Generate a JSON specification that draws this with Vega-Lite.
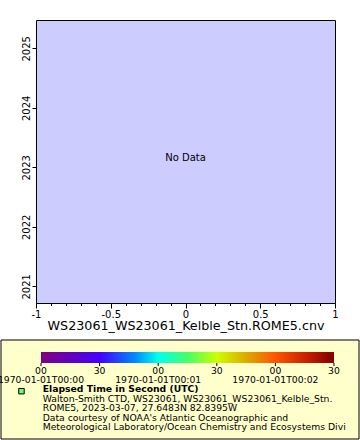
{
  "$schema": "https://vega.github.io/schema/vega-lite/v6.json",
  "padding": {"left": -3, "top": 19, "right": 0, "bottom": 0},
  "bounds": "flush",
  "spacing": 37,
  "config": {"view": {"stroke": null}, "font": "DejaVu Sans"},
  "vconcat": [
    {
      "width": 299,
      "height": 283,
      "view": {"fill": "#ccccff", "stroke": "black", "strokeWidth": 1},
      "data": {"values": [{"x": 0, "year": 2023.15, "label": "No Data"}]},
      "mark": {"type": "text", "fontSize": 10, "font": "DejaVu Sans", "color": "black", "baseline": "middle", "align": "center"},
      "encoding": {
        "x": {
          "field": "x", "type": "quantitative",
          "scale": {"domain": [-1, 1], "nice": false, "zero": false},
          "axis": {
            "title": "WS23061_WS23061_Kelble_Stn.ROME5.cnv",
            "values": [-1, -0.9, -0.8, -0.7, -0.6, -0.5, -0.4, -0.3, -0.2, -0.1, 0, 0.1, 0.2, 0.3, 0.4, 0.5, 0.6, 0.7, 0.8, 0.9, 1],
            "labelExpr": "abs(datum.value*2 - round(datum.value*2)) < 0.001 ? (datum.value < 0 ? '-' : '') + format(abs(datum.value), '') : ''",
            "tickSize": {"condition": {"test": "abs(datum.value*2 - round(datum.value*2)) < 0.001", "value": 5}, "value": 2.5},
            "domain": false, "grid": false,
            "tickColor": "black", "labelColor": "black", "titleColor": "black",
            "labelFont": "DejaVu Sans", "labelFontSize": 10, "labelPadding": 1,
            "labelFlush": false, "labelOverlap": false,
            "titleFont": "DejaVu Sans", "titleFontSize": 12.7, "titleFontWeight": "normal",
            "titleBaseline": "alphabetic", "titleY": 26
          }
        },
        "y": {
          "field": "year", "type": "quantitative",
          "scale": {"domain": [2020.719, 2025.476], "nice": false, "zero": false},
          "axis": {
            "title": null,
            "values": [2021, 2022, 2023, 2024, 2025],
            "format": "d",
            "labelAngle": -90, "labelAlign": "center", "labelBaseline": "alphabetic",
            "labelPadding": 3, "tickSize": 4,
            "domain": false, "grid": false,
            "tickColor": "black", "labelColor": "black",
            "labelFont": "DejaVu Sans", "labelFontSize": 10,
            "labelFlush": false, "labelOverlap": false
          }
        },
        "text": {"field": "label"}
      }
    },
    {
      "width": 299,
      "height": 99,
      "layer": [
        {
          "data": {"values": [{"t0": -20.478, "t1": 162.8, "l0": -3.245, "l1": 7.287}]},
          "mark": {"type": "rect", "fill": "#ffffcc", "stroke": "black", "strokeWidth": 1},
          "encoding": {
            "x": {"field": "t0", "type": "quantitative", "scale": {"domain": [-2.56, 150.512], "nice": false, "zero": false}, "axis": null},
            "x2": {"field": "t1"},
            "y": {"field": "l0", "type": "quantitative", "scale": {"domain": [-3.245, 7.287], "reverse": true, "nice": false, "zero": false}, "axis": null},
            "y2": {"field": "l1"}
          }
        },
        {
          "data": {"values": [{"t0": 0, "t1": 150, "l0": -1.968, "l1": -0.798}]},
          "mark": {
            "type": "rect",
            "fill": {"gradient": "linear", "stops": [
              {"offset": 0, "color": "#800080"},
              {"offset": 0.2, "color": "#4400ff"},
              {"offset": 0.32, "color": "#0088ff"},
              {"offset": 0.4, "color": "#00ffee"},
              {"offset": 0.5, "color": "#44ff66"},
              {"offset": 0.6, "color": "#ccff00"},
              {"offset": 0.7, "color": "#ddaa00"},
              {"offset": 0.8, "color": "#ff5500"},
              {"offset": 0.9, "color": "#cc2200"},
              {"offset": 1, "color": "#800000"}
            ]}
          },
          "encoding": {
            "x": {"field": "t0", "type": "quantitative"},
            "x2": {"field": "t1"},
            "y": {"field": "l0", "type": "quantitative"},
            "y2": {"field": "l1"}
          }
        },
        {
          "data": {"values": [{"t": 0}, {"t": 30}, {"t": 60}, {"t": 90}, {"t": 120}, {"t": 150}]},
          "mark": {"type": "rule", "color": "black", "strokeWidth": 1},
          "encoding": {
            "x": {"field": "t", "type": "quantitative"},
            "y": {"datum": -0.798},
            "y2": {"datum": -0.479}
          }
        },
        {
          "data": {"values": [{"t": 0, "s": "00"}, {"t": 30, "s": "30"}, {"t": 60, "s": "00"}, {"t": 90, "s": "30"}, {"t": 120, "s": "00"}, {"t": 150, "s": "30"}]},
          "mark": {"type": "text", "font": "DejaVu Sans", "fontSize": 9.25, "color": "black", "align": "center", "baseline": "middle"},
          "encoding": {
            "x": {"field": "t", "type": "quantitative"},
            "y": {"datum": 0},
            "text": {"field": "s"}
          }
        },
        {
          "data": {"values": [{"t": 0, "d": "1970-01-01T00:00"}, {"t": 60, "d": "1970-01-01T00:01"}, {"t": 120, "d": "1970-01-01T00:02"}]},
          "mark": {"type": "text", "font": "DejaVu Sans", "fontSize": 9.25, "color": "black", "align": "center", "baseline": "middle"},
          "encoding": {
            "x": {"field": "t", "type": "quantitative"},
            "y": {"datum": 1},
            "text": {"field": "d"}
          }
        },
        {
          "data": {"values": [{"k": "marker"}]},
          "mark": {"type": "point", "shape": "square", "size": 30, "filled": true, "fill": "#66ff66", "stroke": "black", "strokeWidth": 1, "opacity": 1},
          "encoding": {
            "x": {"datum": -10.0},
            "y": {"datum": 2.2}
          }
        },
        {
          "data": {"values": [{"line": 2, "txt": "Elapsed Time in Second (UTC)"}]},
          "mark": {"type": "text", "font": "DejaVu Sans", "fontSize": 9.25, "fontWeight": "bold", "color": "black", "align": "left", "baseline": "middle"},
          "encoding": {
            "x": {"datum": 0.87},
            "y": {"field": "line", "type": "quantitative"},
            "text": {"field": "txt"}
          }
        },
        {
          "data": {"values": [
            {"line": 3, "txt": "Walton-Smith CTD, WS23061, WS23061_WS23061_Kelble_Stn."},
            {"line": 4, "txt": "ROME5, 2023-03-07, 27.6483N 82.8395W"},
            {"line": 5, "txt": "Data courtesy of NOAA's Atlantic Oceanographic and"},
            {"line": 6, "txt": "Meteorological Laboratory/Ocean Chemistry and Ecosystems Division"}
          ]},
          "mark": {"type": "text", "font": "DejaVu Sans", "fontSize": 9.25, "color": "black", "align": "left", "baseline": "middle", "limit": 306, "ellipsis": "\u200b"},
          "encoding": {
            "x": {"datum": 0.87},
            "y": {"field": "line", "type": "quantitative"},
            "text": {"field": "txt"}
          }
        }
      ]
    }
  ]
}
